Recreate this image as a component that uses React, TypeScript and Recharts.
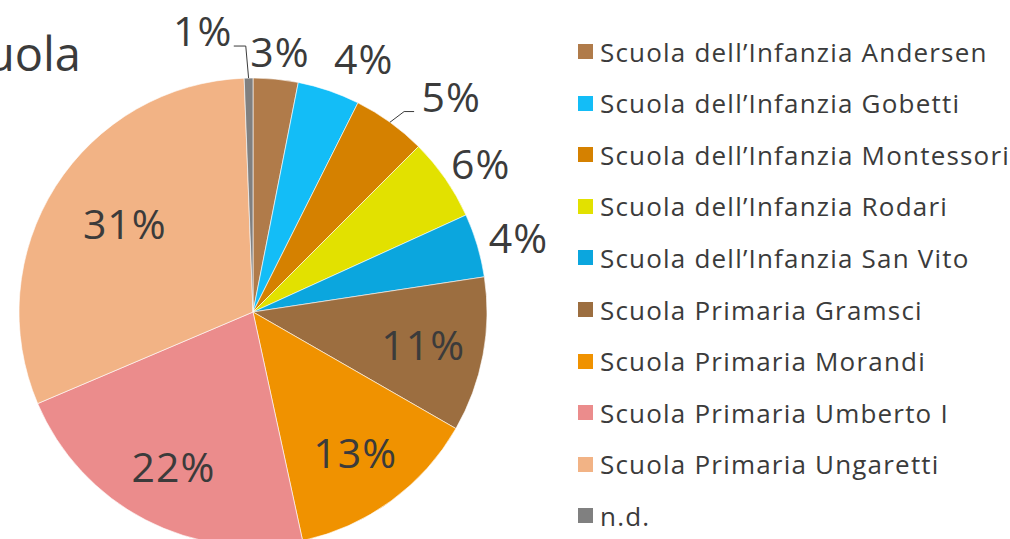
import { PieChart, Pie, Cell, Legend } from "recharts";

const schools = [
  "Scuola dell’Infanzia Andersen",
  "Scuola dell’Infanzia Gobetti",
  "Scuola dell’Infanzia Montessori",
  "Scuola dell’Infanzia Rodari",
  "Scuola dell’Infanzia San Vito",
  "Scuola Primaria Gramsci",
  "Scuola Primaria Morandi",
  "Scuola Primaria Umberto I",
  "Scuola Primaria Ungaretti",
  "n.d.",
];
const shares = [3.1, 4.3, 5.1, 5.7, 4.4, 10.7, 13.3, 22.0, 30.8, 0.6];
const colors = [
  "#B07B4A",
  "#13BDF7",
  "#D58100",
  "#E2E100",
  "#0BA6DE",
  "#9C6E40",
  "#F09200",
  "#EB8C8C",
  "#F2B385",
  "#808080",
];

const data = schools.map((name, i) => ({ name, value: shares[i], color: colors[i] }));

const TEXT = "#3b3b3b";
const FONT = "'Open Sans', sans-serif";
const RAD = Math.PI / 180;

// hand tweaks for labels that were dragged in the original
const nudge: Record<string, [number, number]> = {
  "Scuola dell’Infanzia Gobetti": [21, -6],
  "Scuola dell’Infanzia Montessori": [36, -4],
  "Scuola Primaria Ungaretti": [18, 4],
  "n.d.": [-45, -20],
};
const leader = ["Scuola dell’Infanzia Montessori", "n.d."];

function renderLabel(props: any) {
  const { cx, cy, midAngle, outerRadius, percent, name } = props;
  const cos = Math.cos(-midAngle * RAD);
  const sin = Math.sin(-midAngle * RAD);
  const text = Math.round(percent * 100) + "%";
  let x: number, y: number;
  const w = 66;
  const h = 36;
  if (percent >= 0.1) {
    x = cx + outerRadius * 0.74 * cos;
    y = cy + outerRadius * 0.74 * sin;
  } else {
    const px = cx + (outerRadius + 10) * cos;
    const py = cy + (outerRadius + 10) * sin;
    x = px + (w / 2) * cos;
    y = py + (h / 2) * sin;
  }
  const n = nudge[name];
  if (n) {
    x += n[0];
    y += n[1];
  }
  let line = null;
  if (leader.includes(name)) {
    const ex = cx + outerRadius * cos;
    const ey = cy + outerRadius * sin;
    const right = x > cx;
    const endX = right ? x - w / 2 - 4 : x + 29 + 2;
    const endY = y + 16;
    const elbowX = right ? endX - 10 : endX + 12;
    line = (
      <polyline
        points={`${ex},${ey} ${elbowX},${endY} ${endX},${endY}`}
        fill="none"
        stroke={TEXT}
        strokeWidth={1}
      />
    );
  }
  return (
    <g>
      {line}
      <text
        x={x}
        y={y}
        fill={TEXT}
        fontFamily={FONT}
        fontSize={41}
        letterSpacing={1}
        textAnchor="middle"
        dominantBaseline="central"
      >
        {text}
      </text>
    </g>
  );
}

function LegendList() {
  return (
    <div style={{ fontFamily: FONT, fontSize: 26, letterSpacing: 1.2, color: TEXT }}>
      {data.map((d) => (
        <div
          key={d.name}
          style={{ height: 51.56, display: "flex", alignItems: "center", whiteSpace: "nowrap" }}
        >
          <span
            style={{
              display: "inline-block",
              width: 15,
              height: 15,
              background: d.color,
              marginRight: 7,
              flexShrink: 0,
            }}
          />
          <span>{d.name}</span>
        </div>
      ))}
    </div>
  );
}

export default function App() {
  return (
    <div
      style={{
        position: "absolute",
        left: 0,
        top: 0,
        width: 1010,
        height: 539,
        overflow: "hidden",
        background: "#fff",
      }}
    >
      <div
        style={{
          position: "absolute",
          right: 1010 - 81,
          top: 30,
          fontFamily: FONT,
          fontSize: 47,
          color: TEXT,
          whiteSpace: "nowrap",
          lineHeight: 1,
        }}
      >
        Scuola
      </div>
      <PieChart width={1010} height={539} margin={{ top: 0, right: 0, bottom: 0, left: 0 }}>
        <Pie
          data={data}
          dataKey="value"
          nameKey="name"
          cx={253}
          cy={312}
          outerRadius={234}
          startAngle={90}
          endAngle={-270}
          stroke="#ffffff"
          strokeWidth={0.6}
          label={renderLabel}
          labelLine={false}
          isAnimationActive={false}
        >
          {data.map((d) => (
            <Cell key={d.name} fill={d.color} />
          ))}
        </Pie>
        <Legend
          layout="vertical"
          verticalAlign="top"
          align="right"
          wrapperStyle={{ left: 578, top: 26, width: 430 }}
          content={() => <LegendList />}
        />
      </PieChart>
    </div>
  );
}
